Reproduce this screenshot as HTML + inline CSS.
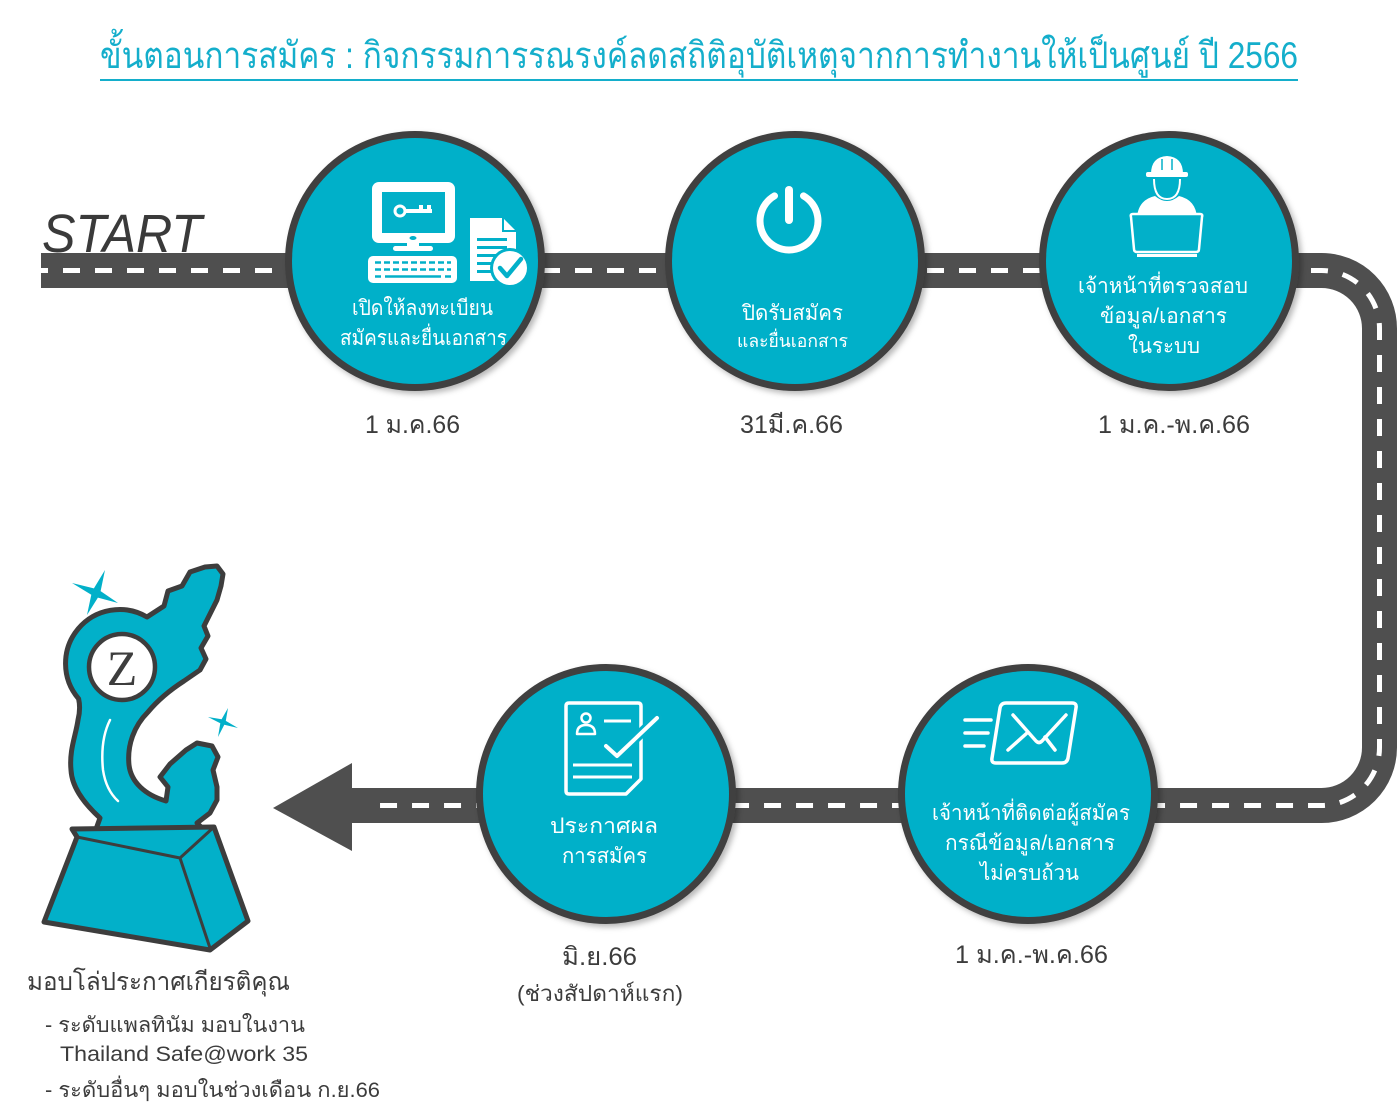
<!DOCTYPE html>
<html>
<head>
<meta charset="utf-8">
<style>
  html,body{margin:0;padding:0;background:#ffffff;}
  body{width:1400px;height:1116px;overflow:hidden;}
  svg{display:block;}
  text{font-family:"Liberation Sans","DejaVu Sans","Noto Sans CJK SC",sans-serif;}
</style>
</head>
<body>
<svg width="1400" height="1116" viewBox="0 0 1400 1116" xmlns="http://www.w3.org/2000/svg">
  <defs>
    <filter id="sh" x="-20%" y="-20%" width="140%" height="140%">
      <feDropShadow dx="3" dy="3" stdDeviation="3" flood-color="#000" flood-opacity="0.28"/>
    </filter>
  </defs>

  <!-- Title -->
  <text x="100" y="68" font-size="37" fill="#14aecb" textLength="1198" lengthAdjust="spacingAndGlyphs">ขั้นตอนการสมัคร : กิจกรรมการรณรงค์ลดสถิติอุบัติเหตุจากการทำงานให้เป็นศูนย์ ปี 2566</text>
  <rect x="100" y="79" width="1198" height="2" fill="#14aecb"/>

  <!-- START -->
  <text x="42" y="252" font-size="54" font-style="italic" fill="#3a3a3a" textLength="160" lengthAdjust="spacingAndGlyphs">START</text>

  <!-- Road -->
  <path d="M41,270.5 H1321.5 A58,58 0 0 1 1379.5,328.5 V747.5 A58,58 0 0 1 1321.5,805.5 H350" fill="none" stroke="#4f4f4f" stroke-width="35"/>
  <path d="M41,270.5 H1321.5 A58,58 0 0 1 1379.5,328.5 V747.5 A58,58 0 0 1 1321.5,805.5 H366" fill="none" stroke="#ffffff" stroke-width="5" stroke-dasharray="17 15" stroke-dashoffset="10"/>
  <!-- Arrow head -->
  <polygon points="273,808 352,763 352,851" fill="#4f4f4f"/>

  <!-- Circles -->
  <g filter="url(#sh)">
    <circle cx="415" cy="261" r="126.5" fill="#02b0c9" stroke="#3f3f3f" stroke-width="7"/>
    <circle cx="795" cy="261" r="126.5" fill="#02b0c9" stroke="#3f3f3f" stroke-width="7"/>
    <circle cx="1169" cy="261" r="126.5" fill="#02b0c9" stroke="#3f3f3f" stroke-width="7"/>
    <circle cx="606" cy="794" r="126.5" fill="#02b0c9" stroke="#3f3f3f" stroke-width="7"/>
    <circle cx="1028" cy="794" r="126.5" fill="#02b0c9" stroke="#3f3f3f" stroke-width="7"/>
  </g>

  <!-- Icon 1: computer + document -->
  <g>
    <rect x="372" y="182" width="83" height="61" rx="7" fill="#fff"/>
    <rect x="382" y="192" width="63" height="41" fill="#02b0c9"/>
    <circle cx="400" cy="211" r="5" fill="none" stroke="#fff" stroke-width="3"/>
    <rect x="405" y="209" width="27" height="4" fill="#fff"/>
    <rect x="419" y="205" width="4" height="5" fill="#fff"/>
    <rect x="427" y="205" width="4" height="5" fill="#fff"/>
    <ellipse cx="413" cy="238" rx="3.5" ry="2" fill="#02b0c9"/>
    <rect x="407" y="242" width="12" height="6" fill="#fff"/>
    <rect x="393" y="246" width="40" height="5" rx="2.5" fill="#fff"/>
    <rect x="368" y="256" width="89" height="27" rx="5" fill="#fff"/>
    <g stroke="#02b0c9" stroke-width="2.5" stroke-dasharray="6 3">
      <line x1="375" y1="262.5" x2="451" y2="262.5"/>
      <line x1="375" y1="269.5" x2="451" y2="269.5"/>
    </g>
    <line x1="375" y1="276.5" x2="381" y2="276.5" stroke="#02b0c9" stroke-width="2.5"/>
    <line x1="385" y1="276.5" x2="441" y2="276.5" stroke="#02b0c9" stroke-width="2.5"/>
    <line x1="445" y1="276.5" x2="451" y2="276.5" stroke="#02b0c9" stroke-width="2.5"/>
    <path d="M470,218 H503 L516,231 V281 H470 Z" fill="#fff"/>
    <path d="M503,218 V231 H516" fill="none" stroke="#02b0c9" stroke-width="2"/>
    <g fill="#02b0c9">
      <rect x="477" y="238" width="30" height="3"/>
      <rect x="477" y="246" width="30" height="3"/>
      <rect x="477" y="254" width="24" height="3"/>
      <rect x="477" y="262" width="18" height="3"/>
      <rect x="477" y="270" width="16" height="3"/>
    </g>
    <circle cx="510" cy="268" r="20" fill="#02b0c9"/>
    <circle cx="510" cy="268" r="17" fill="#fff"/>
    <path d="M500,268 L507,276 L521,259" fill="none" stroke="#02b0c9" stroke-width="4.5" stroke-linecap="round" stroke-linejoin="round"/>
  </g>

  <!-- Icon 2: power -->
  <g fill="none" stroke="#fff" stroke-linecap="round">
    <path d="M803.5,195.9 A29,29 0 1 1 774.5,195.9" stroke-width="7"/>
    <line x1="789" y1="190" x2="789" y2="220" stroke-width="8"/>
  </g>

  <!-- Icon 3: worker with laptop -->
  <g>
    <path d="M1151,174 Q1151,157 1167,156 Q1183,157 1183,174 Z" fill="#fff"/>
    <rect x="1146" y="172" width="42" height="5" rx="2" fill="#fff"/>
    <line x1="1162" y1="159" x2="1162" y2="170" stroke="#02b0c9" stroke-width="1.5"/>
    <line x1="1172" y1="159" x2="1172" y2="170" stroke="#02b0c9" stroke-width="1.5"/>
    <path d="M1154,179 Q1154,199 1167,199 Q1180,199 1180,179" fill="none" stroke="#fff" stroke-width="2"/>
    <path d="M1137,218 Q1138,200 1155,196 Q1167,206 1179,196 Q1196,200 1197,218 Z" fill="#fff"/>
    <path d="M1133,214 H1200 Q1203,214 1202,217 L1199,249 Q1199,252 1196,252 H1137 Q1134,252 1134,249 L1131,217 Q1130,214 1133,214 Z" fill="#02b0c9" stroke="#fff" stroke-width="2.5"/>
    <rect x="1137" y="254" width="60" height="3" fill="#fff"/>
  </g>

  <!-- Icon 4: document with check -->
  <g fill="none" stroke="#fff" stroke-width="3.5" stroke-linejoin="round">
    <path d="M569,703 H638 Q641,703 641,706 V779 L626,794 H569 Q566,794 566,791 V706 Q566,703 569,703 Z"/>
    <circle cx="586" cy="718" r="4.5" stroke-width="2.5"/>
    <path d="M577,734 Q577,725 586,725 Q595,725 595,734 Z" stroke-width="2.5"/>
    <line x1="604" y1="721" x2="631" y2="721" stroke-width="3"/>
    <path d="M606,746 L617,756 L657,718" stroke="#02b0c9" stroke-width="10" stroke-linecap="round"/>
    <path d="M606,746 L617,756 L657,718" stroke-width="4" stroke-linecap="round"/>
    <line x1="573" y1="765" x2="632" y2="765" stroke-width="3"/>
    <line x1="573" y1="777" x2="632" y2="777" stroke-width="3"/>
  </g>

  <!-- Icon 5: envelope -->
  <g fill="none" stroke="#fff" stroke-width="3.5" stroke-linecap="round" stroke-linejoin="round">
    <path d="M1006,703 H1072 Q1077,703 1076,708 L1068,758 Q1067,763 1062,763 H996 Q991,763 992,758 L1000,708 Q1001,703 1006,703 Z"/>
    <path d="M1013,715 L1036,741 Q1039,744 1042,741 L1066,715"/>
    <path d="M1008,750 L1027,733"/>
    <path d="M1055,750 L1045,737"/>
    <line x1="965" y1="720" x2="991" y2="720"/>
    <line x1="965" y1="733" x2="988" y2="733"/>
    <line x1="965" y1="746" x2="984" y2="746"/>
  </g>

  <!-- Circle labels -->
  <g fill="#ffffff" font-size="21">
    <text x="352" y="315" textLength="141" lengthAdjust="spacingAndGlyphs">เปิดให้ลงทะเบียน</text>
    <text x="340" y="345" textLength="167" lengthAdjust="spacingAndGlyphs">สมัครและยื่นเอกสาร</text>

    <text x="742" y="320" textLength="101" lengthAdjust="spacingAndGlyphs">ปิดรับสมัคร</text>
    <text x="737" y="347" font-size="18" textLength="111" lengthAdjust="spacingAndGlyphs">และยื่นเอกสาร</text>

    <text x="1078" y="293" textLength="170" lengthAdjust="spacingAndGlyphs">เจ้าหน้าที่ตรวจสอบ</text>
    <text x="1100" y="323" textLength="127" lengthAdjust="spacingAndGlyphs">ข้อมูล/เอกสาร</text>
    <text x="1128" y="353" textLength="72" lengthAdjust="spacingAndGlyphs">ในระบบ</text>

    <text x="550" y="833" textLength="108" lengthAdjust="spacingAndGlyphs">ประกาศผล</text>
    <text x="562" y="863" textLength="85" lengthAdjust="spacingAndGlyphs">การสมัคร</text>

    <text x="932" y="820" textLength="198" lengthAdjust="spacingAndGlyphs">เจ้าหน้าที่ติดต่อผู้สมัคร</text>
    <text x="945" y="850" textLength="170" lengthAdjust="spacingAndGlyphs">กรณีข้อมูล/เอกสาร</text>
    <text x="980" y="880" textLength="99" lengthAdjust="spacingAndGlyphs">ไม่ครบถ้วน</text>
  </g>

  <!-- Dates -->
  <g fill="#3c3c3c" font-size="25">
    <text x="365" y="433" textLength="95" lengthAdjust="spacingAndGlyphs">1 ม.ค.66</text>
    <text x="740" y="433" textLength="103" lengthAdjust="spacingAndGlyphs">31มี.ค.66</text>
    <text x="1098" y="433" textLength="152" lengthAdjust="spacingAndGlyphs">1 ม.ค.-พ.ค.66</text>
    <text x="562" y="965" textLength="75" lengthAdjust="spacingAndGlyphs">มิ.ย.66</text>
    <text x="517" y="1001" font-size="22" textLength="166" lengthAdjust="spacingAndGlyphs">(ช่วงสัปดาห์แรก)</text>
    <text x="955" y="963" textLength="153" lengthAdjust="spacingAndGlyphs">1 ม.ค.-พ.ค.66</text>
  </g>

  <!-- Trophy -->
  <g stroke="#3d3d3d" stroke-width="5" stroke-linejoin="round" stroke-linecap="round">
    <path fill="#02b0c9" d="M100,818
      C 88,807 72,790 71,770
      C 69,750 76,735 78,720
      C 80,712 80,705 78.6,698.7
      A 54,54 0 0 1 147,617
      L164,606 L168,591 L182,586 L190,572 L205,567 L217,566 L223,574 L221,586 L217,600 L210,614 L204,626 L208,636 L201,648 L206,659 L200,670 L184,681
      C 170,690 158,700 148,712
      C 134,726 127,745 129,765
      C 131,782 145,795 166,801
      L168,787 L160,777 L170,764 L186,750 L197,743 L212,746 L218,757 L213,770 L217,787 L217,800 L210,813 L197,823 L206,832 L95,832 Z"/>
    <path fill="#02b0c9" d="M72,829 L214,827 L248,921 L210,950 L44,922 L77,837 Z"/>
    <path fill="none" stroke-width="3" d="M77,837 L180,858 L214,827 M180,858 L210,948"/>
    <circle cx="122" cy="667" r="33" fill="#ffffff" stroke-width="4.5"/>
  </g>
  <path d="M110,720 Q100,740 103,770 Q106,790 118,801" fill="none" stroke="#ffffff" stroke-width="2.5" stroke-linecap="round"/>
  <text x="122" y="685" text-anchor="middle" font-size="50" fill="#3d3d3d" style="font-family:'Liberation Serif',serif;">Z</text>
  <!-- stars -->
  <path d="M105,570 L100.6,591.1 L118,603 L97.9,597.6 L87,615 L91.3,594.7 L72,583 L93.9,588.4 Z" fill="#02b0c9"/>
  <path d="M228,708 L225.8,720.9 L238,728 L224.3,724.7 L218,737 L220.3,723.3 L208,717 L221.6,719.3 Z" fill="#02b0c9"/>

  <!-- Bottom-left text -->
  <g fill="#3c3c3c">
    <text x="27" y="990" font-size="25" textLength="263" lengthAdjust="spacingAndGlyphs">มอบโล่ประกาศเกียรติคุณ</text>
    <text x="45" y="1032" font-size="21" textLength="260" lengthAdjust="spacingAndGlyphs">- ระดับแพลทินัม มอบในงาน</text>
    <text x="60" y="1061" font-size="21" textLength="248" lengthAdjust="spacingAndGlyphs">Thailand Safe@work 35</text>
    <text x="45" y="1097" font-size="21" textLength="335" lengthAdjust="spacingAndGlyphs">- ระดับอื่นๆ มอบในช่วงเดือน ก.ย.66</text>
  </g>
</svg>
</body>
</html>
